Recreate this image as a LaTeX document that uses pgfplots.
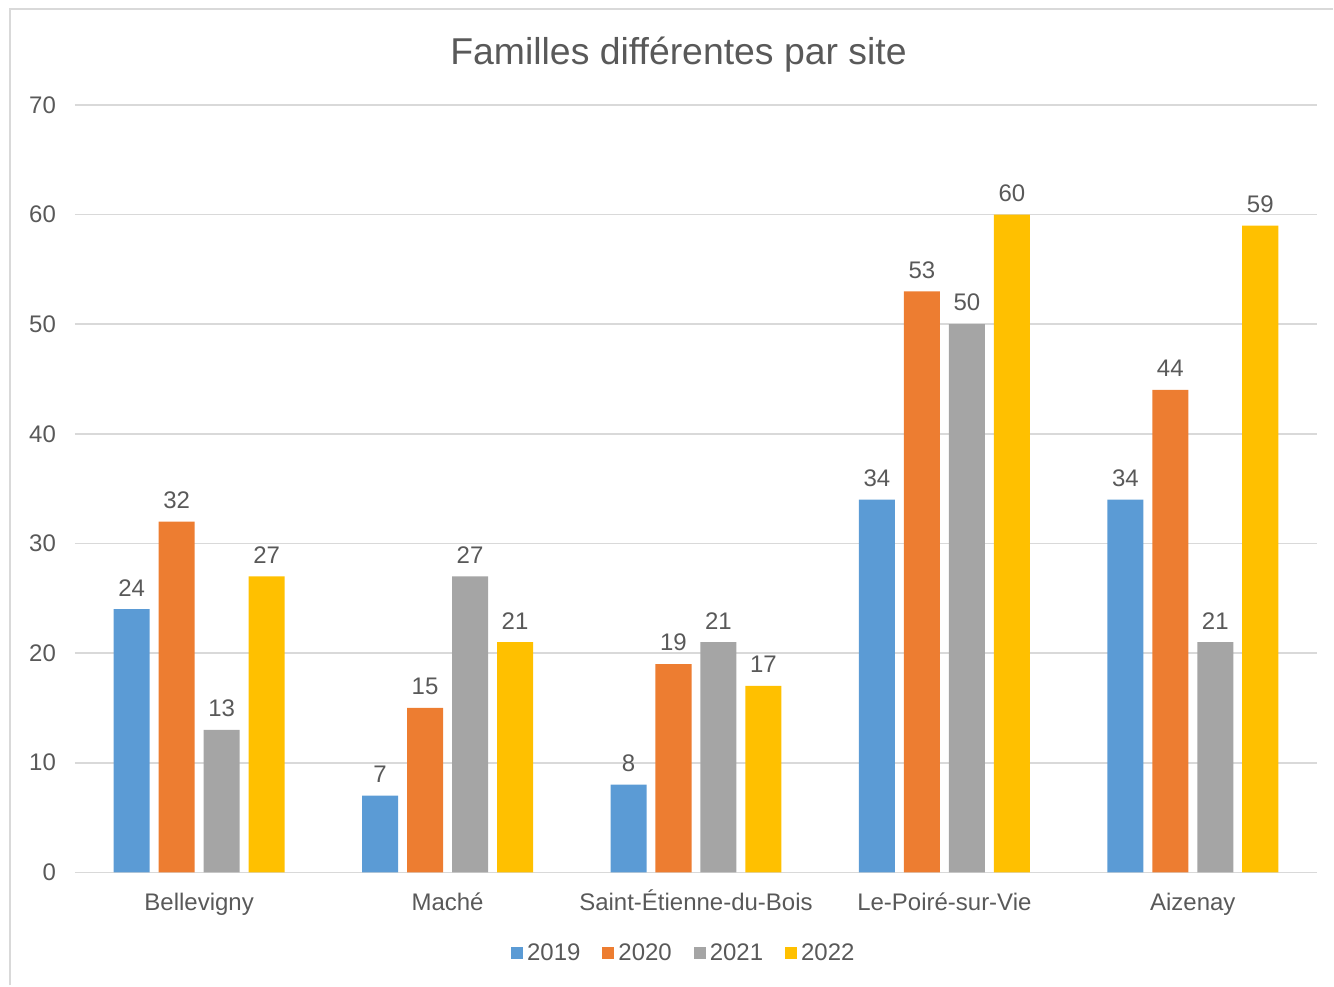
\documentclass[border=0pt]{standalone}
\usepackage{fontspec}
\setmainfont{Liberation Sans}
\usepackage{pgfplots}
\pgfplotsset{compat=1.18}
\definecolor{txt}{HTML}{595959}
\definecolor{gridc}{HTML}{D9D9D9}
\definecolor{c19}{HTML}{5B9BD5}
\definecolor{c20}{HTML}{ED7D31}
\definecolor{c21}{HTML}{A5A5A5}
\definecolor{c22}{HTML}{FFC000}

\begin{document}
\begin{tikzpicture}
\path (0,0) rectangle (667pt,493pt);
\draw[line width=1pt, gridc] (5pt,0) -- (5pt,488.5pt) -- (667pt,488.5pt);
\node[txt, font=\fontsize{18.7}{22}\selectfont] at (339.5pt,465.5pt) {Familles différentes par site};
\begin{axis}[
    at={(37.5pt,56.5pt)}, anchor=south west,
    scale only axis, width=621.5pt, height=384pt,
    xmin=-0.5, xmax=4.5, ymin=0, ymax=70,
    ytick={0,10,...,70},
    xtick={0,1,2,3,4},
    xticklabels={Bellevigny,Maché,Saint-Étienne-du-Bois,Le-Poiré-sur-Vie,Aizenay},
    axis line style={draw=none},
    major tick length=0pt,
    ymajorgrids,
    grid style={gridc, line width=0.8pt},
    /pgf/number format/assume math mode=true,
    tick label style={txt, font=\fontsize{12}{14}\selectfont},
    yticklabel style={xshift=-6pt},
    xticklabel style={anchor=base, yshift=-19pt},
    ybar, bar width=0.145,
    nodes near coords,
    every node near coord/.append style={txt, font=\fontsize{12}{14}\selectfont, yshift=3pt},
    legend columns=4,
    legend style={at={(0.491,-0.1055)}, anchor=center, draw=none, fill=none,
        font=\fontsize{12}{14}\selectfont, text=txt,
        /tikz/every even column/.append style={column sep=9pt}},
    legend image code/.code={\fill[#1] (0pt,-3pt) rectangle (6pt,3pt);},
]
\addplot[fill=c19, draw=none, bar shift=-0.2715] coordinates {(0,24) (1,7) (2,8) (3,34) (4,34)};
\addlegendentry{2019}
\addplot[fill=c20, draw=none, bar shift=-0.0905] coordinates {(0,32) (1,15) (2,19) (3,53) (4,44)};
\addlegendentry{2020}
\addplot[fill=c21, draw=none, bar shift=0.0905] coordinates {(0,13) (1,27) (2,21) (3,50) (4,21)};
\addlegendentry{2021}
\addplot[fill=c22, draw=none, bar shift=0.2715] coordinates {(0,27) (1,21) (2,17) (3,60) (4,59)};
\addlegendentry{2022}
\end{axis}
\end{tikzpicture}
\end{document}
